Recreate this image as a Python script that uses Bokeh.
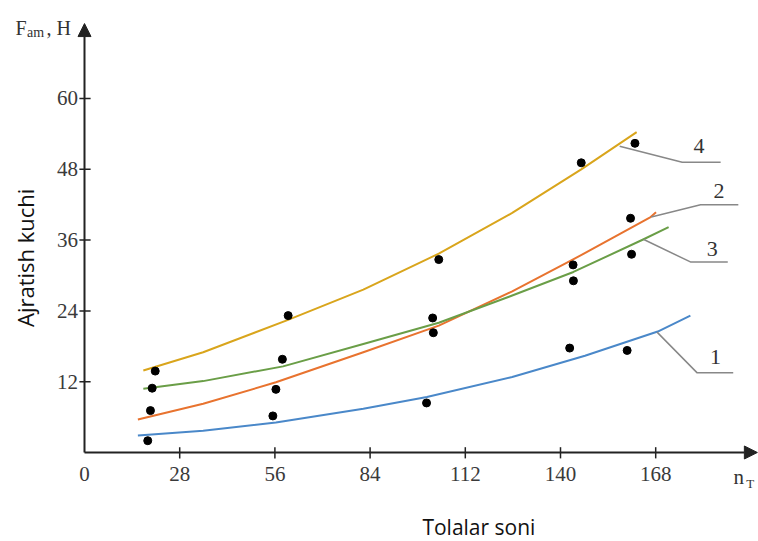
from bokeh.plotting import figure
from bokeh.models import Arrow, NormalHead, ColumnDataSource
from bokeh.core.properties import value
from bokeh.embed import file_html
from bokeh.resources import INLINE

# ---- data ----
x_ticks = [0, 28, 56, 84, 112, 140, 168]
x_tick_labels = ["0", "28", "56", "84", "112", "140", "168"]
y_ticks = [12, 24, 36, 48, 60]
y_tick_labels = ["12", "24", "36", "48", "60"]

# fitted curves
curve1_x = [15.7, 34.9, 56.3, 82.0, 100.7, 125.8, 147.2, 168.6, 178.2]
curve1_y = [2.9, 3.7, 5.1, 7.4, 9.4, 12.8, 16.4, 20.5, 23.2]
curve2_x = [15.7, 34.9, 56.3, 82.0, 104.2, 125.8, 144.0, 166.5, 168.1]
curve2_y = [5.6, 8.25, 11.9, 17.0, 21.5, 27.3, 32.8, 39.9, 40.7]
curve3_x = [17.3, 34.9, 58.4, 82.0, 104.2, 125.8, 143.8, 164.3, 171.8]
curve3_y = [10.8, 12.1, 14.6, 18.4, 22.0, 26.6, 30.6, 36.1, 38.2]
curve4_x = [17.3, 34.9, 59.5, 82.0, 104.2, 125.8, 146.1, 162.4]
curve4_y = [13.9, 17.0, 22.4, 27.6, 33.7, 40.6, 48.0, 54.3]

# measured points
pts1_x = [18.6, 55.4, 100.6, 142.7, 159.6]
pts1_y = [2.0, 6.2, 8.4, 17.7, 17.3]
pts2_x = [19.4, 56.3, 102.6, 143.7, 160.6]
pts2_y = [7.1, 10.7, 20.3, 31.8, 39.7]
pts3_x = [19.9, 58.2, 102.4, 143.8, 160.9]
pts3_y = [10.9, 15.8, 22.8, 29.1, 33.6]
pts4_x = [20.8, 59.9, 104.2, 146.1, 161.9]
pts4_y = [13.8, 23.2, 32.7, 49.1, 52.4]

# curve labels and their leader lines
curve_labels = ["1", "2", "3", "4"]
label_x = [185.6, 186.6, 184.6, 180.7]
label_y = [16.2, 44.4, 34.5, 52.0]
leader_xs = [[168.4, 180.2, 190.8], [166.7, 181.2, 192.3], [164.5, 178.2, 189.2], [157.4, 175.8, 187.1]]
leader_ys = [[20.4, 13.5, 13.5], [39.9, 42.0, 42.0], [36.1, 32.3, 32.3], [51.9, 49.2, 49.2]]

colors = ["#4a88c9", "#e8732f", "#6a9e47", "#d9a51c"]

X_MAX = 197.9
Y_MAX = 72.7

W, H = 758, 541
# frame covers the whole canvas; axes are drawn by hand from the tick arrays
p = figure(width=W, height=H, x_range=(-24.706, 198.235), y_range=(-15.085, 76.610),
           output_backend="svg", toolbar_location=None,
           x_axis_location=None, y_axis_location=None,
           min_border=0, min_border_left=0, min_border_right=0,
           min_border_top=0, min_border_bottom=0)
p.outline_line_color = None
p.grid.visible = False
p.background_fill_color = "white"

serif = "Liberation Serif"
axis_col = "#222222"

# axes drawn as arrows
p.add_layout(Arrow(end=NormalHead(size=13, fill_color=axis_col, line_color=axis_col),
                   x_start=0, y_start=0, x_end=X_MAX, y_end=0,
                   line_width=2, line_color=axis_col))
p.add_layout(Arrow(end=NormalHead(size=13, fill_color=axis_col, line_color=axis_col),
                   x_start=0, y_start=0, x_end=0, y_end=Y_MAX,
                   line_width=2, line_color=axis_col))

# tick marks (crossing the axes)
xt = [t for t in x_ticks if t != 0]
p.segment(x0=xt, y0=[-1.0] * len(xt), x1=xt, y1=[0.9] * len(xt),
          line_color=axis_col, line_width=1.5)
p.segment(x0=[-1.5] * len(y_ticks), y0=y_ticks, x1=[1.8] * len(y_ticks), y1=y_ticks,
          line_color=axis_col, line_width=1.5)

# tick labels
p.text(x=x_ticks, y=[-3.6] * len(x_ticks), text=x_tick_labels, text_font=value(serif),
       text_font_size="21px", text_color="#3a3a3a", text_align="center", text_baseline="middle")
p.text(x=[-1.9] * len(y_ticks), y=y_ticks, text=y_tick_labels, text_font=value(serif),
       text_font_size="21px", text_color="#3a3a3a", text_align="right", text_baseline="middle")

curves = [(curve1_x, curve1_y), (curve2_x, curve2_y), (curve3_x, curve3_y), (curve4_x, curve4_y)]
for (cx, cy), c in zip(curves, colors):
    p.line(cx, cy, line_color=c, line_width=2, line_join="round")

for px, py in [(pts1_x, pts1_y), (pts2_x, pts2_y), (pts3_x, pts3_y), (pts4_x, pts4_y)]:
    p.scatter(px, py, size=8, fill_color="black", line_color="black")

p.multi_line(leader_xs, leader_ys, line_color="#888888", line_width=1.5)
src = ColumnDataSource(dict(x=label_x, y=label_y, t=curve_labels))
p.text(x="x", y="y", text="t", source=src, text_font=value(serif), text_font_size="22px",
       text_color="#333333", text_align="center", text_baseline="middle")

# axis names
p.text(x=[-20.3], y=[72.0], text=["F"], text_font=value(serif), text_font_size="20px",
       text_color="#333333", text_baseline="middle")
p.text(x=[-16.9], y=[71.2], text=["am"], text_font=value(serif), text_font_size="14px",
       text_color="#333333", text_baseline="middle")
p.text(x=[-11.2], y=[72.0], text=[", H"], text_font=value(serif), text_font_size="20px",
       text_color="#333333", text_baseline="middle")
p.text(x=[190.9], y=[-4.07], text=["n"], text_font=value(serif), text_font_size="21px",
       text_color="#333333", text_baseline="middle")
p.text(x=[194.6], y=[-5.2], text=["T"], text_font=value(serif), text_font_size="13px",
       text_color="#333333", text_baseline="middle")

p.text(x=[116.0], y=[-12.7], text=["Tolalar soni"], text_font=value("Open Sans"),
       text_font_size="21px", text_color="#111111",
       text_align="center", text_baseline="middle")
p.text(x=[-17.6], y=[33.0], text=["Ajratish kuchi"], text_font=value("Open Sans"),
       text_font_size="22px", text_color="#111111", angle=1.5708,
       text_align="center", text_baseline="middle")

open("out.html", "w").write(file_html(p, INLINE))
